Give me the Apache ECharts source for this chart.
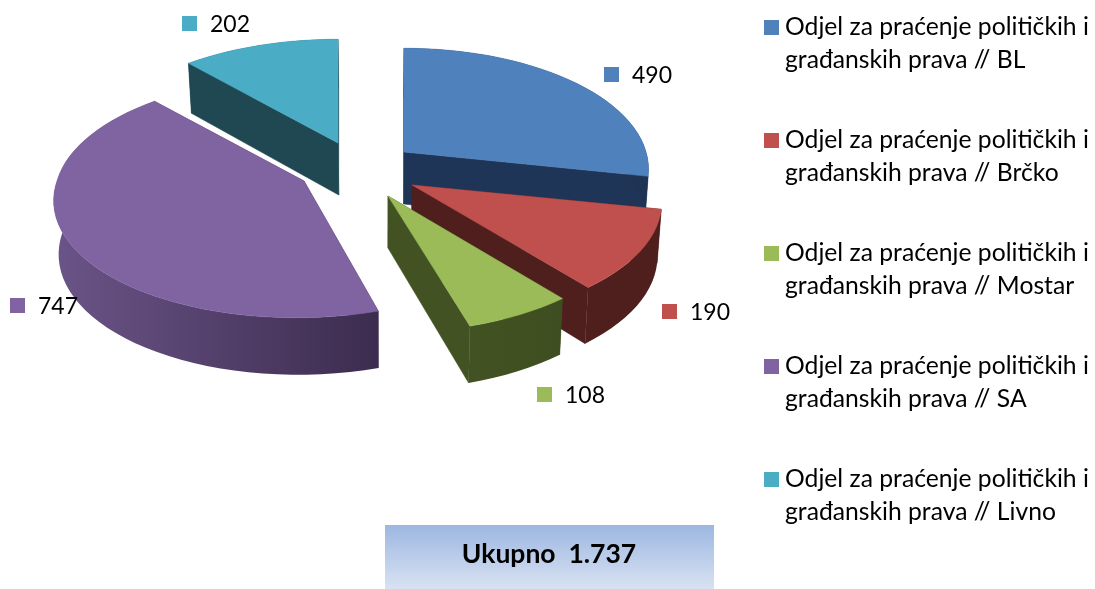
<!DOCTYPE html>
<html>
<head>
<meta charset="utf-8">
<style>html,body{margin:0;padding:0;background:#fff}#chart{width:1095px;height:589px}</style>
<script src="https://cdn.jsdelivr.net/npm/echarts@6/dist/echarts.min.js"></script>
</head>
<body>
<div id="chart"></div>
<script>
// ---- data ----
var categories = [
  'Odjel za praćenje političkih i\ngrađanskih prava // BL',
  'Odjel za praćenje političkih i\ngrađanskih prava // Brčko',
  'Odjel za praćenje političkih i\ngrađanskih prava // Mostar',
  'Odjel za praćenje političkih i\ngrađanskih prava // SA',
  'Odjel za praćenje političkih i\ngrađanskih prava // Livno'
];
var values = [490, 190, 108, 747, 202];
var totalLabel = 'Ukupno  1.737';

// ---- style ----
var topColors  = ['#4f81bd', '#c0504d', '#9bbb59', '#8064a2', '#4bacc6'];
var wallColors = ['#1f3557', '#4f1f1e', '#435222', '#4a3960', '#1f4853'];
var wallLight  = ['#1f3557', '#4f1f1e', '#435222', '#6b5488', '#1f4853'];
var wallDark   = ['#1f3454', '#4f1f1e', '#3f4e20', '#3c2c4e', '#1f4853'];

// ---- layout: exploded slice apexes, radius scale and label anchors, in pixels ----
var apex = [[404, 152], [412, 185], [388, 196], [304, 181], [338, 143]];
var radiusScale = [0.98, 1, 1, 1, 1];
var labelAt = [[604, 67], [662, 304], [537, 387], [10, 298], [182, 16]];
var paintOrder = [4, 0, 3, 1, 2];
var RX = 247, RY = 118, P = 0.137, VIEW_X = 385, SHRINK = 0.985;
var FONT = 'Lato, "Open Sans", sans-serif';

var total = values.reduce(function (a, b) { return a + b; }, 0);
var starts = [], run = 0;
values.forEach(function (v) { starts.push(run); run += v; });

function rim(i, frac) {
  var a = frac * 2 * Math.PI, s = Math.sin(a), c = Math.cos(a), k = 1 / (1 + P * c);
  var ex = apex[i][0] - VIEW_X;
  var lean = c < 0 ? ex * (k - 1) * 0.6 : 0;
  return [apex[i][0] + RX * radiusScale[i] * s * k + lean, apex[i][1] - RY * c * k, 53 - 4 * c];
}
function drop(p) {
  return [VIEW_X + (p[0] - VIEW_X) * SHRINK, p[1] + p[2]];
}
function sampleRim(i, f0, f1) {
  var n = Math.max(8, Math.ceil((f1 - f0) * 120)), out = [];
  for (var j = 0; j <= n; j++) out.push(rim(i, f0 + (f1 - f0) * j / n));
  return out;
}

function renderSlice(params, api) {
  var i = api.value(0), v = api.value(1);
  var f0 = starts[i] / total, f1 = (starts[i] + v) / total;
  var pts = sampleRim(i, f0, f1);
  var tip = [apex[i][0], apex[i][1]];
  var tipB = drop([tip[0], tip[1], 52]);
  var top2 = function (p) { return [p[0], p[1]]; };
  var first = pts[0], last = pts[pts.length - 1];
  var outer = pts.map(top2).concat(pts.map(drop).reverse());
  var flat = { fill: wallColors[i], stroke: wallColors[i], lineWidth: 0.5 };
  return {
    type: 'group',
    children: [
      { type: 'polygon', shape: { points: [tip, top2(first), drop(first), tipB] }, style: flat },
      { type: 'polygon', shape: { points: [tip, top2(last), drop(last), tipB] }, style: flat },
      { type: 'polygon', shape: { points: outer }, style: {
          fill: { type: 'linear', x: 0, y: 0, x2: 1, y2: 0, colorStops: [
            { offset: 0, color: wallLight[i] }, { offset: 1, color: wallDark[i] } ] }
      } },
      { type: 'polygon', shape: { points: [tip].concat(pts.map(top2)) }, style: {
          fill: topColors[i], stroke: topColors[i], lineWidth: 0.5 } },
      { type: 'rect', shape: { x: labelAt[i][0], y: labelAt[i][1], width: 15, height: 15 },
        style: { fill: topColors[i] } },
      { type: 'text', style: { text: String(v), x: labelAt[i][0] + 28, y: labelAt[i][1] + 9,
          verticalAlign: 'middle', fill: '#000', font: '23px ' + FONT } }
    ]
  };
}

var chart = echarts.init(document.getElementById('chart'), null, { renderer: 'canvas' });
chart.setOption({
  animation: false,
  backgroundColor: '#fff',
  legend: {
    data: categories,
    orient: 'vertical',
    left: 764,
    top: -22,
    padding: 0,
    icon: 'path://M0,0H10V10H0Z',
    itemWidth: 17,
    itemHeight: 15,
    itemGap: 14,
    selectedMode: false,
    // the leading blank line centres the key on the first line of each two-line name
    formatter: function (name) { return '\n' + name; },
    textStyle: { fontFamily: FONT, fontSize: 24.7, lineHeight: 33, color: '#000' }
  },
  series: paintOrder.map(function (i) {
    return {
      type: 'custom',
      name: categories[i],
      coordinateSystem: 'none',
      silent: true,
      itemStyle: { color: topColors[i] },
      renderItem: renderSlice,
      data: [[i, values[i]]]
    };
  }),
  graphic: [{
    type: 'group',
    children: [
      { type: 'rect', shape: { x: 385, y: 525, width: 329, height: 64 }, style: {
          fill: { type: 'linear', x: 0, y: 0, x2: 0, y2: 1, colorStops: [
            { offset: 0, color: '#9cb7e1' }, { offset: 1, color: '#d9e2f2' } ] } } },
      { type: 'text', style: { text: totalLabel, x: 549, y: 554, align: 'center', verticalAlign: 'middle',
          fill: '#000', font: 'bold 26.5px ' + FONT } }
    ]
  }]
});
</script>
</body>
</html>
